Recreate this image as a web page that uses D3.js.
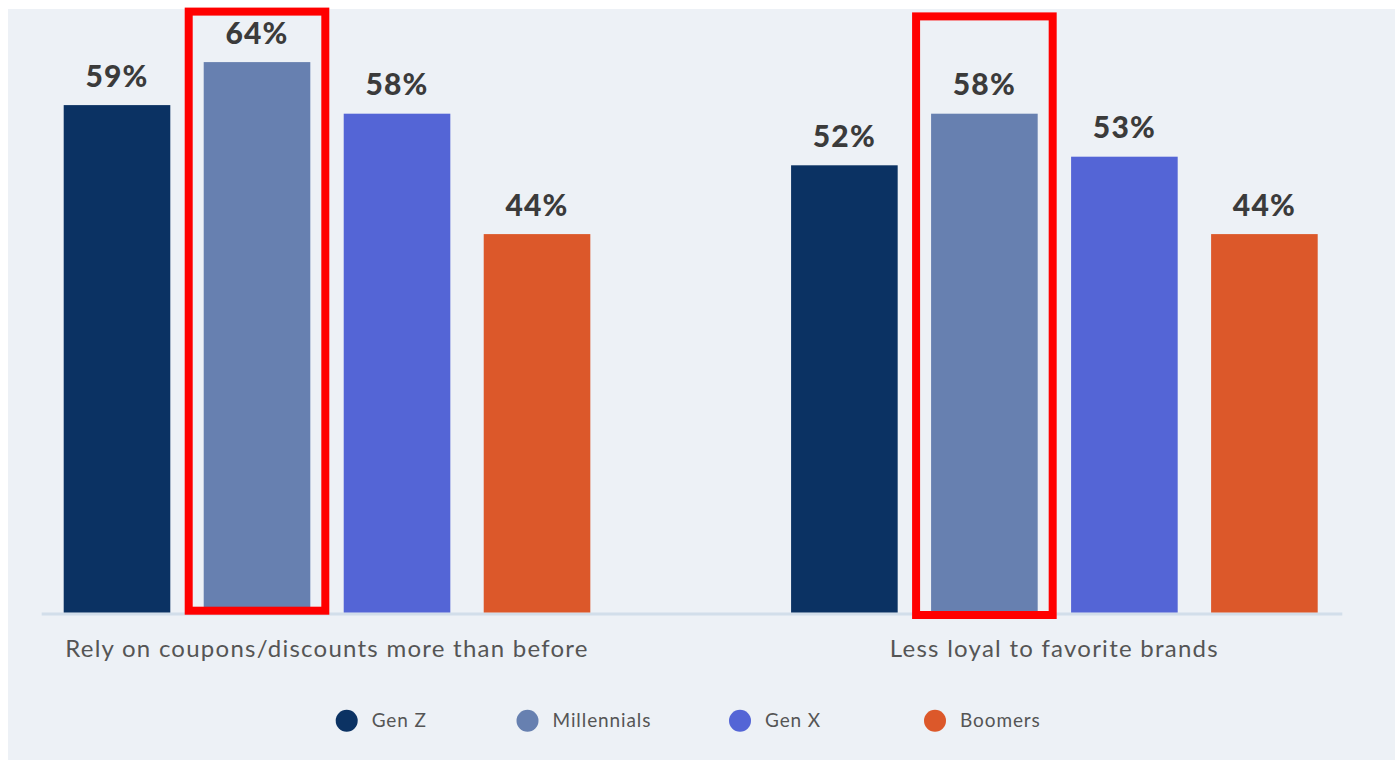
<!DOCTYPE html>
<html>
<head>
<meta charset="utf-8">
<script src="https://cdn.jsdelivr.net/npm/d3@7"></script>
<style>
  html, body { margin: 0; padding: 0; background: #ffffff; }
  svg { display: block; }
</style>
</head>
<body>
<svg id="chart" width="1395" height="760"></svg>
<script>
// Survey categories and generations
const categories = ["Rely on coupons/discounts more than before", "Less loyal to favorite brands"];
const series = ["Gen Z", "Millennials", "Gen X", "Boomers"];
// Share of respondents (%) per generation, one array per category
const relyOnCoupons = [59, 64, 58, 44];
const lessLoyal = [52, 58, 53, 44];
// Generation highlighted in each category
const highlighted = ["Millennials", "Millennials"];

const colors = d3.scaleOrdinal()
  .domain(series)
  .range(["#0b3263", "#6780b0", "#5465d6", "#dc582a"]);

const rows = categories.map((c, i) => ({
  category: c,
  values: series.map((s, j) => ({ series: s, value: [relyOnCoupons, lessLoyal][i][j] }))
}));

const svg = d3.select("#chart");
const W = 1395, H = 760;
const FONT = "Lato, 'Open Sans', sans-serif";

// panel background
svg.append("rect")
  .attr("x", 8).attr("y", 9)
  .attr("width", W - 8).attr("height", H - 9)
  .attr("fill", "#edf1f6");

const baseline = 612.5;
const y = d3.scaleLinear().domain([0, 100]).range([baseline, baseline - 860]);

const x0 = d3.scaleBand()
  .domain(categories)
  .range([63.7, 1317.7])
  .paddingInner(0.276)
  .paddingOuter(0);

const x1 = d3.scaleBand()
  .domain(series)
  .range([0, x0.bandwidth()])
  .paddingInner(0.2386)
  .paddingOuter(0);

// baseline axis
svg.append("line")
  .attr("x1", 41.7).attr("x2", 1342.3)
  .attr("y1", baseline + 1.5).attr("y2", baseline + 1.5)
  .attr("stroke", "#d2deea")
  .attr("stroke-width", 3);

const groups = svg.append("g").selectAll("g.group")
  .data(rows)
  .join("g")
  .attr("class", "group")
  .attr("transform", d => `translate(${x0(d.category)},0)`);

groups.selectAll("rect.bar")
  .data(d => d.values)
  .join("rect")
  .attr("class", "bar")
  .attr("x", d => x1(d.series))
  .attr("y", d => y(d.value))
  .attr("width", x1.bandwidth())
  .attr("height", d => y(0) - y(d.value))
  .attr("fill", d => colors(d.series));

groups.selectAll("text.value")
  .data(d => d.values)
  .join("text")
  .attr("class", "value")
  .attr("x", d => x1(d.series) + x1.bandwidth() / 2)
  .attr("y", d => y(d.value) - 18.5)
  .attr("text-anchor", "middle")
  .attr("font-family", FONT)
  .attr("font-weight", 900)
  .attr("font-size", 30)
  .attr("letter-spacing", 1.2)
  .attr("fill", "#3b3b3b")
  .text(d => d.value + "%");

// highlight frames around the emphasised generation
groups.each(function(d, i) {
  const g = d3.select(this);
  const v = d.values.find(e => e.series === highlighted[i]);
  const pad = 15;
  const top = y(v.value) - (i === 0 ? 50.5 : 97.3);
  g.append("rect")
    .attr("x", x1(v.series) - pad)
    .attr("y", top)
    .attr("width", x1.bandwidth() + 2 * pad)
    .attr("height", baseline + (i === 0 ? -1.8 : 2.5) - top)
    .attr("fill", "none")
    .attr("stroke", "#ff0000")
    .attr("stroke-width", 8);
});

// category labels
groups.append("text")
  .attr("x", x0.bandwidth() / 2)
  .attr("y", 657)
  .attr("text-anchor", "middle")
  .attr("font-family", FONT)
  .attr("font-size", 24)
  .attr("letter-spacing", 1.25)
  .attr("fill", "#555555")
  .text(d => d.category);

// legend
const legendX = d3.scaleOrdinal().domain(series).range([346.7, 527.5, 740, 935]);
const legend = svg.append("g").selectAll("g.legend")
  .data(series)
  .join("g")
  .attr("class", "legend")
  .attr("transform", d => `translate(${legendX(d)},720.8)`);

legend.append("circle")
  .attr("r", 11)
  .attr("fill", d => colors(d));

legend.append("text")
  .attr("x", 25)
  .attr("y", 6)
  .attr("font-family", FONT)
  .attr("font-size", 19)
  .attr("letter-spacing", 0.9)
  .attr("fill", "#555555")
  .text(d => d);
</script>
</body>
</html>
